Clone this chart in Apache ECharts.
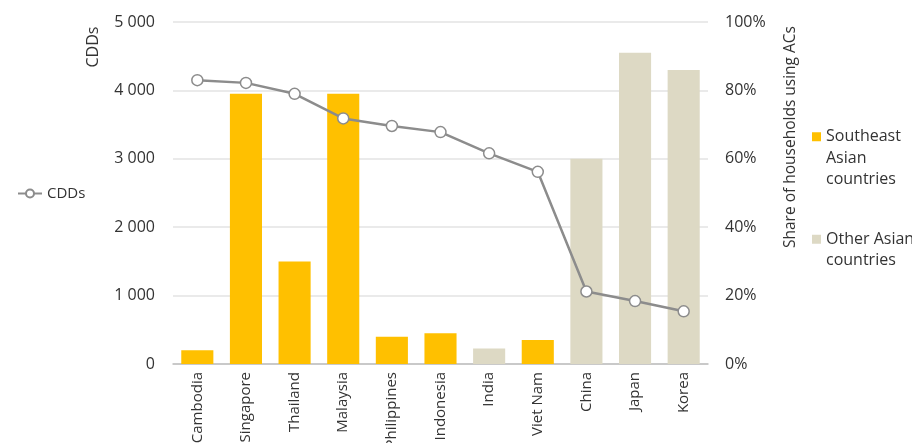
<!DOCTYPE html>
<html>
<head>
<meta charset="utf-8">
<script src="https://cdn.jsdelivr.net/npm/echarts@6/dist/echarts.min.js"></script>
<style>
  html, body { margin: 0; padding: 0; background: #fff; }
  #chart { width: 912px; height: 443px; }
</style>
</head>
<body>
<div id="chart"></div>
<script>
  // countries on the x axis
  var countries = ['Cambodia', 'Singapore', 'Thailand', 'Malaysia', 'Philippines',
                   'Indonesia', 'India', 'Viet Nam', 'China', 'Japan', 'Korea'];
  // 'sea' = Southeast Asian, 'other' = other Asian
  var region = ['sea', 'sea', 'sea', 'sea', 'sea', 'sea', 'other', 'sea', 'other', 'other', 'other'];
  // share of households using ACs (%), right axis
  var acShare = [4, 79, 30, 79, 8, 9, 4.5, 7, 60, 91, 86];
  // cooling degree days, left axis
  var cdds = [4150, 4110, 3950, 3590, 3480, 3390, 3080, 2810, 1060, 920, 770];

  var seaData = acShare.map(function (v, i) { return region[i] === 'sea' ? v : null; });
  var otherData = acShare.map(function (v, i) { return region[i] === 'other' ? v : null; });

  var font = 'Open Sans';
  var txt = '#333';
  var chart = echarts.init(document.getElementById('chart'));
  chart.setOption({
    animation: false,
    textStyle: { fontFamily: font },
    grid: { left: 173, right: 204, top: 22, bottom: 79, outerBoundsMode: 'none', containLabel: false },
    legend: [
      {
        data: ['CDDs'],
        left: 12, top: 181,
        itemWidth: 24, itemHeight: 10,
        textStyle: { fontSize: 15, color: txt, fontFamily: font }
      },
      {
        // blank lines in front keep the square beside the first line
        data: ['Southeast Asian countries'],
        left: 807, top: 78,
        itemWidth: 9, itemHeight: 9,
        icon: 'rect',
        formatter: function () { return '\n\nSoutheast\nAsian\ncountries'; },
        textStyle: { fontSize: 16, color: txt, lineHeight: 21.5, fontFamily: font }
      },
      {
        data: ['Other Asian countries'],
        left: 807, top: 202,
        itemWidth: 9, itemHeight: 9,
        icon: 'rect',
        formatter: function () { return '\nOther Asian\ncountries'; },
        textStyle: { fontSize: 16, color: txt, lineHeight: 21.5, fontFamily: font }
      }
    ],
    xAxis: {
      type: 'category',
      data: countries,
      axisTick: { show: false },
      axisLine: { lineStyle: { color: '#bfbfbf', width: 1.5 } },
      axisLabel: { rotate: 90, fontSize: 15, color: txt, margin: 8, interval: 0 }
    },
    yAxis: [
      {
        type: 'value', min: 0, max: 5000, interval: 1000,
        name: 'CDDs', nameLocation: 'middle', nameRotate: 90, nameGap: 72,
        nameTextStyle: { fontSize: 16, color: txt, padding: [0, 0, 0, 292] },
        axisLabel: {
          fontSize: 16, color: txt, margin: 18,
          formatter: function (v) { return String(v).replace(/\B(?=(\d{3})+(?!\d))/g, ' '); }
        },
        splitLine: { lineStyle: { color: '#e3e3e3', width: 1.5 } },
        axisLine: { show: false }, axisTick: { show: false }
      },
      {
        type: 'value', min: 0, max: 100, interval: 20,
        name: 'Share of households using ACs', nameLocation: 'middle', nameRotate: 90, nameGap: 75,
        nameTextStyle: { fontSize: 15.5, color: txt, padding: [0, 0, 0, 112] },
        axisLabel: { fontSize: 16, color: txt, margin: 17, formatter: '{value}%' },
        splitLine: { show: false },
        axisLine: { show: false }, axisTick: { show: false }
      }
    ],
    series: [
      {
        name: 'Southeast Asian countries', type: 'bar', yAxisIndex: 1, stack: 'ac',
        barWidth: '66%', data: seaData, itemStyle: { color: '#FFC000' }
      },
      {
        name: 'Other Asian countries', type: 'bar', yAxisIndex: 1, stack: 'ac',
        barWidth: '66%', data: otherData, itemStyle: { color: '#DDD9C4' }
      },
      {
        name: 'CDDs', type: 'line', yAxisIndex: 0, data: cdds,
        symbol: 'circle', symbolSize: 11,
        lineStyle: { color: '#8c8c8c', width: 2.5 },
        itemStyle: { color: '#fff', borderColor: '#8c8c8c', borderWidth: 1.5 }
      }
    ]
  });
</script>
</body>
</html>
